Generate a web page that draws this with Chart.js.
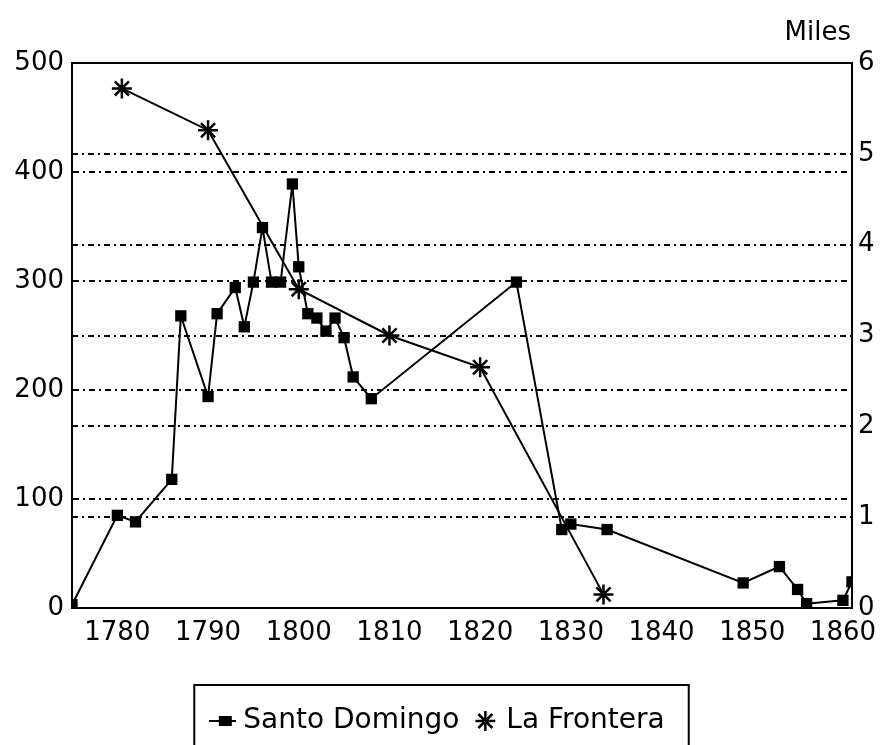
<!DOCTYPE html>
<html>
<head>
<meta charset="utf-8">
<script src="https://cdn.jsdelivr.net/npm/chart.js@4/dist/chart.umd.min.js"></script>
<style>
  html, body { margin: 0; padding: 0; background: #fff; }
  #wrap { width: 880px; height: 745px; }
</style>
</head>
<body>
<div id="wrap"><canvas id="chart" width="880" height="745"></canvas></div>
<script>
// Santo Domingo (left axis)
const sdYears = [1775, 1780, 1782, 1786, 1787, 1790, 1791, 1793, 1794, 1795, 1796, 1797, 1798, 1799.3, 1800, 1801, 1802, 1803, 1804, 1805, 1806, 1808, 1824, 1829, 1830, 1834, 1849, 1853, 1855, 1856, 1860, 1861];
const sdValues = [3, 85, 79, 118, 268, 194, 270, 294, 258, 299, 349, 299, 299, 389, 313, 270, 266, 254, 266, 248, 212, 192, 299, 72, 77, 72, 23, 38, 17, 4, 7, 24];

// La Frontera (right axis, miles)
const lfYears = [1780.5, 1790, 1800, 1810, 1820, 1833.6];
const lfMiles = [5.72, 5.26, 3.51, 3.0, 2.65, 0.15];

const yearTicks = [1780, 1790, 1800, 1810, 1820, 1830, 1840, 1850, 1860];
const leftTicks = [0, 100, 200, 300, 400, 500];
const rightTicks = [0, 1, 2, 3, 4, 5, 6];

const FONT = "DejaVu Sans";
const black = "#000";

// line + square for the legend
function sdLegendIcon() {
  const c = document.createElement("canvas");
  c.width = 27; c.height = 12;
  const g = c.getContext("2d");
  g.fillStyle = black;
  g.fillRect(0, 5, 27, 2);
  g.fillRect(10, 1, 13, 10);
  return c;
}

const framePlugin = {
  id: "frame",
  afterDraw(chart) {
    const { ctx, chartArea: a, legend } = chart;
    ctx.save();
    ctx.strokeStyle = black;
    ctx.lineWidth = 2;
    ctx.beginPath();
    ctx.moveTo(a.left, a.top);
    ctx.lineTo(a.right + 1, a.top);
    ctx.stroke();

    // box round the legend
    const boxes = legend.legendHitBoxes;
    if (boxes && boxes.length) {
      const first = boxes[0];
      const last = boxes[boxes.length - 1];
      const cy = first.top + first.height / 2;
      const x0 = first.left - 21;
      const x1 = last.left + last.width + 24;
      ctx.strokeRect(x0, cy - 36, x1 - x0, 100);
    }

    ctx.fillStyle = black;
    ctx.font = "26px '" + FONT + "'";
    ctx.textAlign = "right";
    ctx.textBaseline = "alphabetic";
    ctx.fillText("Miles", a.right - 1, a.top - 23);
    ctx.restore();
  }
};

const noEdge = (max) => (c) =>
  c.tick && (c.tick.value === 0 || c.tick.value === max) ? "rgba(0,0,0,0)" : black;

new Chart(document.getElementById("chart"), {
  type: "line",
  data: {
    datasets: [
      {
        label: "Santo Domingo",
        data: sdYears.map((x, i) => ({ x: x, y: sdValues[i] })),
        yAxisID: "y",
        borderColor: black,
        backgroundColor: black,
        borderWidth: 2,
        pointStyle: "rect",
        pointRadius: 8,
        pointBorderWidth: 0,
        tension: 0,
      },
      {
        label: "La Frontera",
        data: lfYears.map((x, i) => ({ x: x, y: lfMiles[i] })),
        yAxisID: "y1",
        borderColor: black,
        backgroundColor: black,
        borderWidth: 2,
        pointStyle: "star",
        pointRadius: 10,
        pointBorderWidth: 2.5,
        tension: 0,
      },
    ],
  },
  options: {
    responsive: false,
    animation: false,
    events: [],
    layout: { padding: { top: 63, left: 0, right: 0, bottom: 0 } },
    scales: {
      x: {
        type: "linear",
        min: 1775,
        max: 1861,
        afterBuildTicks: (scale) => {
          scale.ticks = yearTicks.map((v) => ({ value: v }));
        },
        afterFit: (scale) => {
          scale.height = 80;
          scale.paddingLeft = 0;
          scale.paddingRight = 0;
        },
        grid: { display: false, drawTicks: false },
        border: { display: true, color: black, width: 2 },
        ticks: {
          color: black,
          font: { family: FONT, size: 26 },
          padding: 10,
          maxRotation: 0,
          autoSkip: false,
          callback: (v) => String(v),
        },
      },
      y: {
        position: "left",
        min: 0,
        max: 500,
        afterBuildTicks: (scale) => {
          scale.ticks = leftTicks.map((v) => ({ value: v }));
        },
        afterFit: (scale) => { scale.width = 72; },
        grid: { color: noEdge(500), lineWidth: 2, drawTicks: false },
        border: { display: true, color: black, width: 2, dash: [6, 4, 2, 4] },
        ticks: {
          color: black,
          font: { family: FONT, size: 26 },
          padding: 8,
        },
      },
      y1: {
        position: "right",
        min: 0,
        max: 6,
        afterBuildTicks: (scale) => {
          scale.ticks = rightTicks.map((v) => ({ value: v }));
        },
        afterFit: (scale) => { scale.width = 28; },
        grid: { color: noEdge(6), lineWidth: 2, drawTicks: false },
        border: { display: true, color: black, width: 2, dash: [6, 4, 2, 4] },
        ticks: {
          color: black,
          font: { family: FONT, size: 26 },
          padding: 6,
        },
      },
    },
    plugins: {
      legend: {
        position: "bottom",
        labels: {
          color: black,
          font: { family: FONT, size: 28 },
          usePointStyle: true,
          boxWidth: 14,
          boxHeight: 14,
          padding: 19,
          generateLabels: (chart) => {
            const items = Chart.defaults.plugins.legend.labels.generateLabels(chart);
            items[0].pointStyle = sdLegendIcon();
            return items;
          },
        },
      },
      tooltip: { enabled: false },
    },
  },
  plugins: [framePlugin],
});
</script>
</body>
</html>
